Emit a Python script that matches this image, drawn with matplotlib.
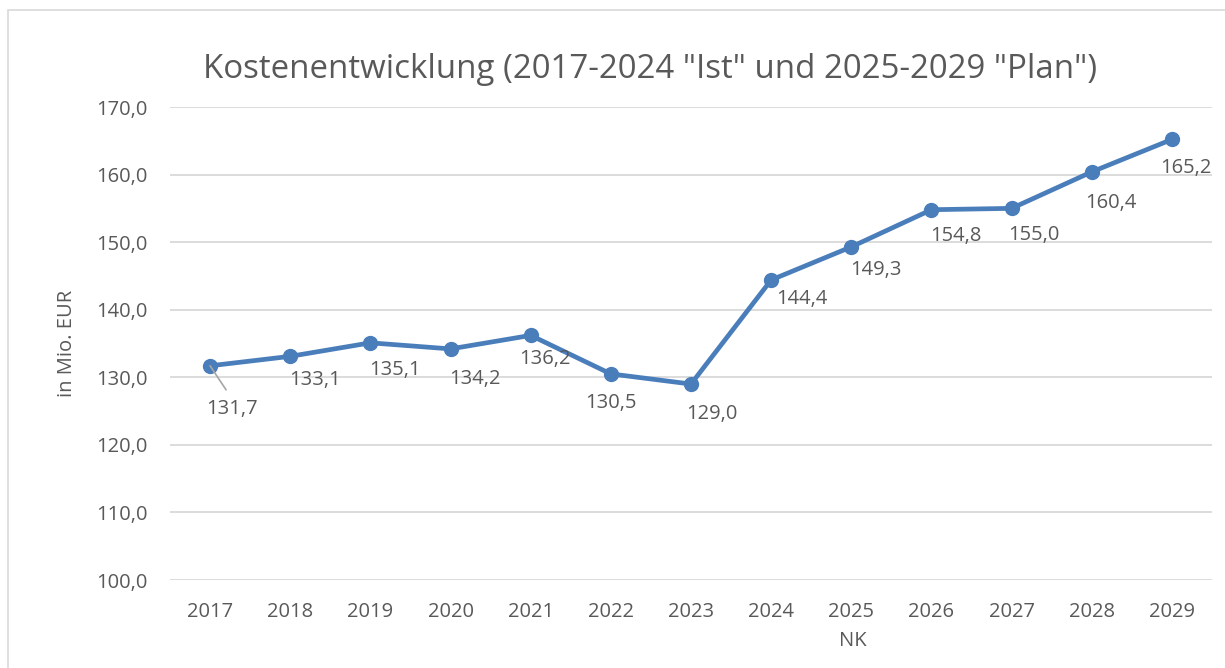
import matplotlib.pyplot as plt
from matplotlib.patches import Rectangle

plt.rcParams['font.family'] = ['Open Sans', 'DejaVu Sans']

years = ["2017", "2018", "2019", "2020", "2021", "2022", "2023",
         "2024", "2025", "2026", "2027", "2028", "2029"]
kosten = [131.7, 133.1, 135.1, 134.2, 136.2, 130.5, 129.0,
          144.4, 149.3, 154.8, 155.0, 160.4, 165.2]

# label offsets in pixels (right, down) as placed in the original
label_off = [(22, 43), (25, 24), (25, 27), (24, 30), (14, 24), (0, 29), (21, 30),
             (31, 19), (25, 23), (24, 26), (22, 27), (19, 31), (14, 29)]

txt = '#595959'
blue = '#4A7EBB'
fs = 14.5

fig = plt.figure(figsize=(12.25, 6.68), dpi=100)
ax = fig.add_axes([170 / 1225, 88 / 668, 1042 / 1225, 473 / 668])

x = range(len(years))
ax.plot(x, kosten, '-o', color=blue, lw=3.4, ms=10, zorder=3, clip_on=False)

for i, v in enumerate(kosten):
    dx, dy = label_off[i]
    ax.annotate(f"{v:.1f}".replace('.', ','), (i, v), xytext=(dx * 0.72, -dy * 0.72),
                textcoords='offset points', ha='center', va='center',
                fontsize=fs, color=txt, zorder=4)
# leader line for the first label
ax.annotate("", (0, kosten[0]), xytext=(16 * 0.72, -24 * 0.72),
            textcoords='offset points',
            arrowprops=dict(arrowstyle='-', color='#A6A6A6', lw=1.2, shrinkA=0, shrinkB=0))

ax.set_xlim(-0.5, len(years) - 0.5)
ax.set_ylim(100, 170)
ax.set_yticks(range(100, 171, 10))
ax.set_yticklabels([f"{t},0" for t in range(100, 171, 10)])
ax.set_xticks(list(x))
ax.set_xticklabels(years)
ax.tick_params(length=0, labelsize=fs, labelcolor=txt)
ax.tick_params(axis='x', pad=15.5)
ax.tick_params(axis='y', pad=16)
ax.grid(axis='y', color='#D9D9D9', lw=1.3)
ax.set_axisbelow(True)
for s in ax.spines.values():
    s.set_visible(False)

ax.set_ylabel("in Mio. EUR", fontsize=fs, color=txt)
ax.yaxis.set_label_coords((77 - 170) / 1042, 0.5)
ax.set_xlabel("NK", fontsize=fs, color=txt)
ax.xaxis.set_label_coords((853 - 170) / 1042, -(631 - 580) / 473)

fig.text(650 / 1225, 1 - 70 / 668, 'Kostenentwicklung (2017-2024 "Ist" und 2025-2029 "Plan")',
         ha='center', va='center', fontsize=23.8, color=txt)

fig.patches.append(Rectangle((8 / 1225, -0.1), 1.2, 1 - 10 / 668 + 0.1, transform=fig.transFigure,
                             fill=False, edgecolor='#D9D9D9', lw=1.2))

fig.savefig("out.png", dpi=100)
